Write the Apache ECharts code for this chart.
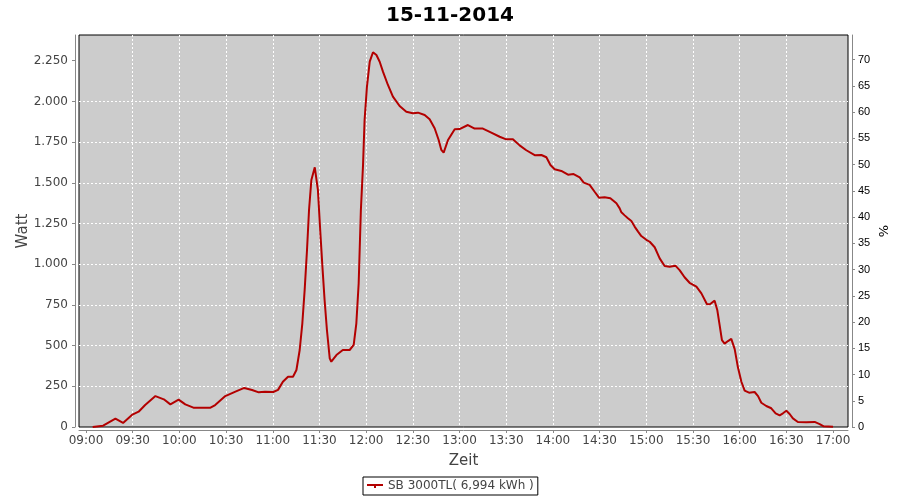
<!DOCTYPE html>
<html><head><meta charset="utf-8">
<script src="https://cdn.jsdelivr.net/npm/echarts@6/dist/echarts.min.js"></script>
<style>html,body{margin:0;padding:0;background:#fff}#c{width:900px;height:500px}</style>
</head><body><div id="c"></div>
<script>
const chartTitle = '15-11-2014';
const seriesName = 'SB 3000TL( 6,994 kWh )';
const xName = 'Zeit';
const yLeftName = 'Watt';
const yRightName = '%';

const times = [
 '09:04:18','09:11:00','09:18:54','09:23:48','09:29:30','09:33:48','09:38:00','09:44:36','09:50:00','09:54:12',
 '09:59:30','10:03:48','10:09:00','10:20:00','10:23:00','10:29:30','10:36:00','10:41:42','10:46:42','10:51:00',
 '10:55:00','11:00:18','11:03:24','11:06:30','11:09:48','11:13:00','11:15:12','11:17:18','11:19:00','11:20:30',
 '11:22:00','11:23:18','11:24:48','11:27:00','11:29:00','11:30:36','11:31:54','11:33:18','11:34:48','11:36:36',
 '11:37:36','11:40:54','11:45:00','11:49:24','11:52:00','11:53:42','11:55:12','11:56:36','11:58:00','11:59:00',
 '12:00:30','12:02:18','12:04:24','12:06:36','12:08:42','12:10:48','12:14:00','12:17:12','12:21:30','12:25:48',
 '12:30:00','12:33:18','12:37:36','12:40:48','12:44:00','12:46:36','12:48:18','12:49:48','12:52:36','12:56:54',
 '13:00:00','13:05:24','13:09:42','13:15:00','13:20:24','13:25:48','13:30:00','13:34:18','13:38:36','13:42:54',
 '13:48:18','13:52:36','13:55:48','13:58:24','14:01:06','14:05:24','14:09:42','14:13:18','14:17:12','14:19:48',
 '14:23:36','14:26:48','14:29:36','14:33:12','14:36:54','14:40:48','14:42:54','14:44:00','14:46:06','14:48:12',
 '14:50:24','14:52:30','14:54:42','14:56:48','14:57:54','15:00:00','15:02:12','15:05:24','15:08:36','15:11:48',
 '15:15:00','15:18:42','15:21:24','15:24:36','15:27:48','15:32:12','15:35:24','15:39:00','15:41:06','15:43:54',
 '15:45:36','15:47:06','15:48:36','15:50:18','15:52:30','15:54:36','15:56:48','15:58:54','16:01:06','16:03:12',
 '16:06:00','16:09:36','16:11:48','16:13:54','16:17:06','16:20:18','16:23:06','16:25:42','16:27:48','16:30:00',
 '16:32:06','16:34:12','16:37:24','16:42:48','16:48:12','16:51:24','16:54:00','17:00:00'
];
const watts = [
 0,8,51,25,74,94,135,190,170,139,
 168,139,119,119,135,190,217,240,227,213,
 217,215,228,278,309,309,350,473,637,842,
 1087,1333,1517,1595,1456,1190,985,780,596,422,
 401,442,473,473,504,637,883,1330,1610,1886,
 2090,2244,2302,2285,2244,2183,2101,2029,1972,1937,
 1927,1931,1917,1890,1835,1763,1702,1685,1763,1829,
 1830,1855,1833,1833,1808,1783,1767,1767,1730,1700,
 1670,1671,1657,1609,1583,1573,1550,1554,1534,1501,
 1487,1445,1409,1411,1405,1374,1343,1319,1300,1282,
 1265,1231,1200,1173,1163,1150,1138,1104,1036,989,
 985,991,964,920,886,862,821,754,756,776,
 719,627,534,512,528,541,478,365,278,223,
 211,215,190,149,129,115,84,72,84,100,
 80,53,31,29,31,18,4,2
];
const xTickLabels = ['09:00','09:30','10:00','10:30','11:00','11:30','12:00','12:30','13:00','13:30','14:00','14:30','15:00','15:30','16:00','16:30','17:00'];
const wattTicks = [0,250,500,750,1000,1250,1500,1750,2000,2250];
const pctTicks = [0,5,10,15,20,25,30,35,40,45,50,55,60,65,70];
const xRange = ['08:55:30','17:09:36'];
const wattMax = 2408;
const pctMax = 74.7;

function toMin(s){const p=s.split(':').map(Number);return p[0]*60+p[1]+(p[2]||0)/60;}
function fmtMin(v){const h=Math.floor(v/60+1e-9),m=Math.round(v-h*60);return String(h).padStart(2,'0')+':'+String(m).padStart(2,'0');}
function fmtWatt(v){return String(v).replace(/\B(?=(\d{3})+(?!\d))/g,'.');}

const xTickVals = xTickLabels.map(toMin);
const seriesData = times.map((t,i)=>[toMin(t), watts[i]]);
const FONT = 'DejaVu Sans';

const chart = echarts.init(document.getElementById('c'), null, {renderer:'canvas'});
chart.setOption({
  animation:false,
  backgroundColor:'#ffffff',
  textStyle:{fontFamily:FONT},
  title:{text:chartTitle,left:'center',top:1,textStyle:{fontFamily:FONT,fontWeight:'bold',fontSize:20,color:'#000'}},
  grid:{left:79,right:52,top:35,bottom:73,show:true,backgroundColor:'#cccccc',borderColor:'#000000',borderWidth:1,containLabel:false,outerBoundsMode:'none'},
  legend:{left:363,top:477,padding:[3,4],borderColor:'#000',borderWidth:1,itemWidth:16,itemHeight:10,itemGap:5,
    textStyle:{fontFamily:FONT,fontSize:12,color:'#444'},data:[{name:seriesName,icon:'path://M0,4L16,4L16,6L9,6L9,8L7,8L7,6L0,6Z'}]},
  xAxis:{type:'value',min:toMin(xRange[0]),max:toMin(xRange[1]),minInterval:30,maxInterval:30,splitNumber:16,
    offset:3,name:xName,nameLocation:'middle',nameGap:24,nameMoveOverlap:false,nameTextStyle:{fontFamily:FONT,fontSize:15,color:'#444'},
    axisLine:{show:true,onZero:false,lineStyle:{color:'#888',width:1}},
    axisTick:{show:true,length:3,customValues:xTickVals,lineStyle:{color:'#888'}},
    axisLabel:{customValues:xTickVals,formatter:v=>fmtMin(v),fontFamily:FONT,fontSize:12,color:'#444',margin:5,showMinLabel:true,showMaxLabel:true},
    splitLine:{show:true,showMinLine:false,showMaxLine:false,lineStyle:{color:'#ffffff',type:[2,2],width:1}}},
  yAxis:[
    {type:'value',min:0,max:wattMax,interval:250,offset:4,position:'left',
     name:yLeftName,nameLocation:'middle',nameGap:44,nameRotate:90,nameMoveOverlap:false,nameTextStyle:{fontFamily:FONT,fontSize:15,color:'#444'},
     axisLine:{show:true,lineStyle:{color:'#888',width:1}},
     axisTick:{show:true,length:3,customValues:wattTicks,lineStyle:{color:'#888'}},
     axisLabel:{customValues:wattTicks,formatter:v=>fmtWatt(v),fontFamily:FONT,fontSize:12,color:'#444',margin:7},
     splitLine:{show:true,showMinLine:false,showMaxLine:false,lineStyle:{color:'#ffffff',type:[2,2],width:1}}},
    {type:'value',min:0,max:pctMax,interval:5,offset:4,position:'right',
     name:yRightName,nameLocation:'middle',nameGap:26,nameRotate:90,nameMoveOverlap:false,nameTextStyle:{fontFamily:FONT,fontSize:13,color:'#000'},
     axisLine:{show:true,lineStyle:{color:'#888',width:1}},
     axisTick:{show:true,length:3,customValues:pctTicks,lineStyle:{color:'#888'}},
     axisLabel:{customValues:pctTicks,fontFamily:'Liberation Sans',fontSize:11,color:'#000',margin:6},
     splitLine:{show:false}}
  ],
  series:[{name:seriesName,type:'line',yAxisIndex:0,data:seriesData,symbol:'none',smooth:false,
    lineStyle:{color:'#b30000',width:2},itemStyle:{color:'#b30000'}}]
});
</script></body></html>
